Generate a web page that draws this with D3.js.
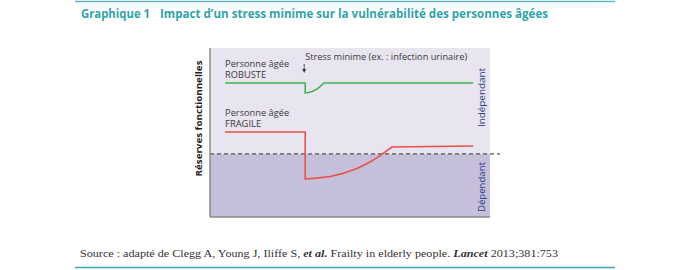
<!DOCTYPE html>
<html>
<head>
<meta charset="utf-8">
<script src="https://cdn.jsdelivr.net/npm/d3@7"></script>
<style>
body { margin: 0; background: #fff; }
svg { display: block; }
</style>
</head>
<body>
<div id="chart"></div>
<script>
// time (0-100) and functional reserve (0-100)
var robusteT = [5.4, 34, 34, 35, 36.5, 38.5, 40.7, 94];
var robusteV = [79.3, 79.3, 73.4, 73.6, 74.3, 76, 79.3, 79.3];
var fragileT = [5.4, 34, 34, 38, 42.9, 47.5, 52.5, 56, 59.6, 65, 94];
var fragileV = [50.3, 50.3, 22.5, 23, 24, 25.8, 28.7, 31.5, 35, 41.4, 42];
var seuil = 37.3;
var stressT = 34;

var width = 698, height = 270;
var svg = d3.select("#chart").append("svg")
  .attr("width", width)
  .attr("height", height);

// plot area
var plotL = 210, plotR = 490, plotT = 48, plotB = 217;
var x = d3.scaleLinear().domain([0, 100]).range([plotL, plotR]);
var y = d3.scaleLinear().domain([0, 100]).range([plotB, plotT]);

// header / footer rules
svg.append("line").attr("x1", 75).attr("x2", 615).attr("y1", 1.5).attr("y2", 1.5)
  .style("stroke", "#5fb8bb").style("stroke-width", 1.5);
svg.append("line").attr("x1", 75).attr("x2", 615).attr("y1", 267.5).attr("y2", 267.5)
  .style("stroke", "#3aa9ad").style("stroke-width", 1.5);

var title = svg.append("text")
  .attr("x", 81).attr("y", 17.5)
  .style("font-family", "'Open Sans', sans-serif")
  .style("font-weight", "bold")
  .style("font-size", "12px")
  .style("fill", "#2fa4a8");
title.append("tspan").attr("textLength", 69).attr("lengthAdjust", "spacingAndGlyphs")
  .text("Graphique 1");
title.append("tspan").attr("x", 160).attr("textLength", 388).attr("lengthAdjust", "spacingAndGlyphs")
  .text("Impact d\u2019un stress minime sur la vuln\u00e9rabilit\u00e9 des personnes \u00e2g\u00e9es");

// background zones
svg.append("rect")
  .attr("x", x(0)).attr("y", y(100))
  .attr("width", x(100) - x(0)).attr("height", y(seuil) - y(100))
  .style("fill", "#e8e4f0");
svg.append("rect")
  .attr("x", x(0)).attr("y", y(seuil))
  .attr("width", x(100) - x(0)).attr("height", y(0) - y(seuil))
  .style("fill", "#c6bfda");

// threshold
svg.append("line")
  .attr("x1", x(0)).attr("x2", x(100) + 10)
  .attr("y1", y(seuil)).attr("y2", y(seuil))
  .style("stroke", "#555").style("stroke-width", 1.3)
  .style("stroke-dasharray", "4,3");

// axes
svg.append("line").attr("x1", x(0)).attr("x2", x(0)).attr("y1", y(100)).attr("y2", y(0))
  .style("stroke", "#8a8a8a").style("stroke-width", 1.5);
svg.append("line").attr("x1", x(0)).attr("x2", x(100)).attr("y1", y(0)).attr("y2", y(0))
  .style("stroke", "#8a8a8a").style("stroke-width", 1.5);

var line = d3.line()
  .x(function(d) { return x(d[0]); })
  .y(function(d) { return y(d[1]); });

svg.append("path")
  .datum(d3.zip(robusteT, robusteV))
  .attr("d", line)
  .style("fill", "none").style("stroke", "#3cb44b").style("stroke-width", 1.5);
svg.append("path")
  .datum(d3.zip(fragileT, fragileV))
  .attr("d", line)
  .style("fill", "none").style("stroke", "#ea5148").style("stroke-width", 1.6);

var lab = "'Open Sans', sans-serif";
function label(tx, ty, s, len) {
  return svg.append("text").attr("x", tx).attr("y", ty)
    .attr("textLength", len).attr("lengthAdjust", "spacingAndGlyphs")
    .style("font-family", lab).style("font-size", "9px").style("fill", "#3a3a3a")
    .text(s);
}
label(x(5.4), 66.5, "Personne \u00e2g\u00e9e", 64);
label(x(5.4), 78, "ROBUSTE", 41);
label(x(5.4), 115.5, "Personne \u00e2g\u00e9e", 64);
label(x(5.4), 127, "FRAGILE", 36);
label(x(stressT), 60, "Stress minime (ex. : infection urinaire)", 162);

// arrow at stress
svg.append("line")
  .attr("x1", x(stressT) - 1).attr("x2", x(stressT) - 1)
  .attr("y1", 64).attr("y2", 71)
  .style("stroke", "#333").style("stroke-width", 0.8);
svg.append("path")
  .attr("d", "M" + (x(stressT) - 3) + ",69 L" + (x(stressT) + 1) + ",69 L" + (x(stressT) - 1) + ",73 Z")
  .style("fill", "#333");

// zone labels
svg.append("text")
  .attr("transform", "translate(" + 485 + "," + 97.5 + ") rotate(-90)")
  .attr("text-anchor", "middle")
  .attr("textLength", 59).attr("lengthAdjust", "spacingAndGlyphs")
  .style("font-family", lab).style("font-size", "9.5px").style("fill", "#2e3a8c")
  .text("Ind\u00e9pendant");
svg.append("text")
  .attr("transform", "translate(" + 485 + "," + 187 + ") rotate(-90)")
  .attr("text-anchor", "middle")
  .attr("textLength", 50).attr("lengthAdjust", "spacingAndGlyphs")
  .style("font-family", lab).style("font-size", "9.5px").style("fill", "#2e3a8c")
  .text("D\u00e9pendant");

// y axis title
svg.append("text")
  .attr("transform", "translate(" + 201.5 + "," + 118.5 + ") rotate(-90)")
  .attr("text-anchor", "middle")
  .attr("textLength", 116).attr("lengthAdjust", "spacingAndGlyphs")
  .style("font-family", lab).style("font-size", "9.5px").style("font-weight", "bold")
  .style("fill", "#222")
  .text("R\u00e9serves fonctionnelles");

// source
var src = svg.append("text").attr("x", 80).attr("y", 257)
  .attr("textLength", 478).attr("lengthAdjust", "spacingAndGlyphs")
  .style("font-family", "'Liberation Serif', serif").style("font-size", "11px").style("fill", "#333");
src.append("tspan").text("Source : adapt\u00e9 de Clegg A, Young J, Iliffe S, ");
src.append("tspan").style("font-weight", "bold").style("font-style", "italic").text("et al.");
src.append("tspan").text(" Frailty in elderly people. ");
src.append("tspan").style("font-weight", "bold").style("font-style", "italic").text("Lancet");
src.append("tspan").text(" 2013;381:753");
</script>
</body>
</html>
